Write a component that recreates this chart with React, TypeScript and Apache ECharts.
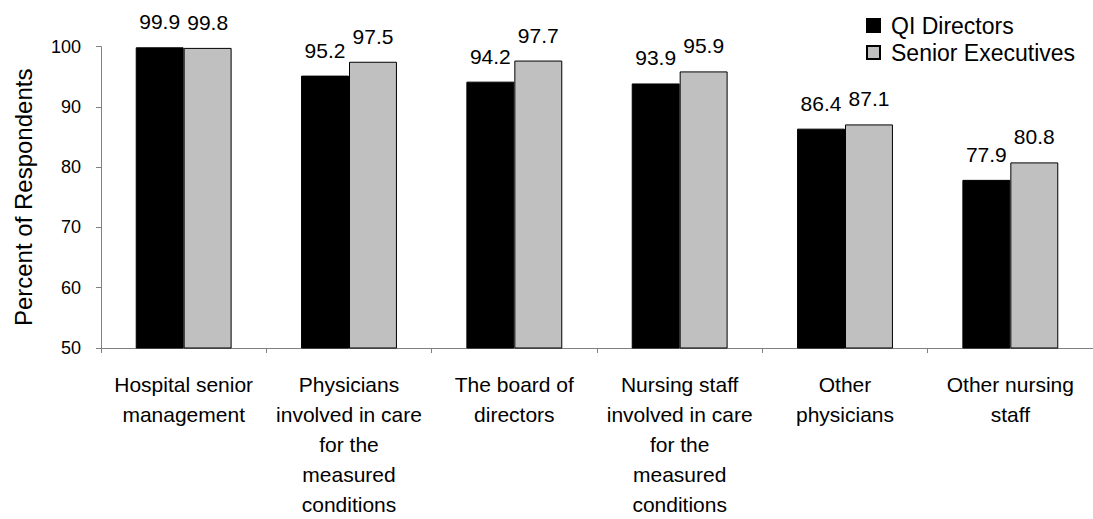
import React, { useEffect, useRef } from "react";
import * as echarts from "echarts";

const categories = [
  "Hospital senior\nmanagement",
  "Physicians\ninvolved in care\nfor the\nmeasured\nconditions",
  "The board of\ndirectors",
  "Nursing staff\ninvolved in care\nfor the\nmeasured\nconditions",
  "Other\nphysicians",
  "Other nursing\nstaff",
];
const qiDirectors = [99.9, 95.2, 94.2, 93.9, 86.4, 77.9];
const seniorExecutives = [99.8, 97.5, 97.7, 95.9, 87.1, 80.8];
const seriesNames = ["QI Directors", "Senior Executives"];
const yTicks = { min: 50, max: 100, interval: 10 };

const FONT = "Arial, 'Liberation Sans', sans-serif";

export default function App() {
  const ref = useRef<HTMLDivElement>(null);
  useEffect(() => {
    document.body.style.margin = "0";
    if (!ref.current) return;
    const chart = echarts.init(ref.current, null, { renderer: "svg" });
    const label = {
      show: true,
      position: "top",
      distance: 15,
      color: "#000",
      fontFamily: FONT,
      fontSize: 21,
      formatter: (p: any) => Number(p.value).toFixed(1),
    };
    chart.setOption({
      animation: false,
      backgroundColor: "#fff",
      textStyle: { fontFamily: FONT },
      grid: { left: 101, top: 46.7, height: 311.3, width: 996, containLabel: false },
      legend: {
        orient: "vertical",
        left: 861,
        top: 9,
        itemWidth: 13,
        itemHeight: 13,
        itemGap: 4,
        icon: "rect",
        textStyle: { fontFamily: FONT, fontSize: 23, color: "#000", padding: [0, 0, 0, 6] },
        data: seriesNames,
      },
      xAxis: {
        type: "category",
        data: categories,
        axisLine: { lineStyle: { color: "#808080", width: 1 } },
        axisTick: { show: true, length: 5, lineStyle: { color: "#808080" } },
        axisLabel: {
          color: "#000",
          fontFamily: FONT,
          fontSize: 21,
          lineHeight: 30,
          margin: 21,
          interval: 0,
          align: "center",
        },
      },
      yAxis: {
        type: "value",
        min: yTicks.min,
        max: yTicks.max,
        interval: yTicks.interval,
        name: "Percent of Respondents",
        nameLocation: "middle",
        nameGap: 66,
        nameTextStyle: { color: "#000", fontFamily: FONT, fontSize: 24 },
        splitLine: { show: false },
        axisLine: { show: true, lineStyle: { color: "#808080", width: 1 } },
        axisTick: { show: true, length: 5, lineStyle: { color: "#808080" } },
        axisLabel: { color: "#000", fontFamily: FONT, fontSize: 18, margin: 20 },
      },
      series: [
        {
          name: seriesNames[0],
          type: "bar",
          data: qiDirectors,
          barGap: "0%",
          barCategoryGap: "42%",
          itemStyle: { color: "#000000", borderColor: "#000", borderWidth: 1 },
          label,
        },
        {
          name: seriesNames[1],
          type: "bar",
          data: seniorExecutives,
          barGap: "0%",
          barCategoryGap: "42%",
          itemStyle: { color: "#C0C0C0", borderColor: "#000", borderWidth: 1 },
          label,
        },
      ],
    });
    return () => chart.dispose();
  }, []);
  return <div ref={ref} style={{ width: 1093, height: 519 }} />;
}
